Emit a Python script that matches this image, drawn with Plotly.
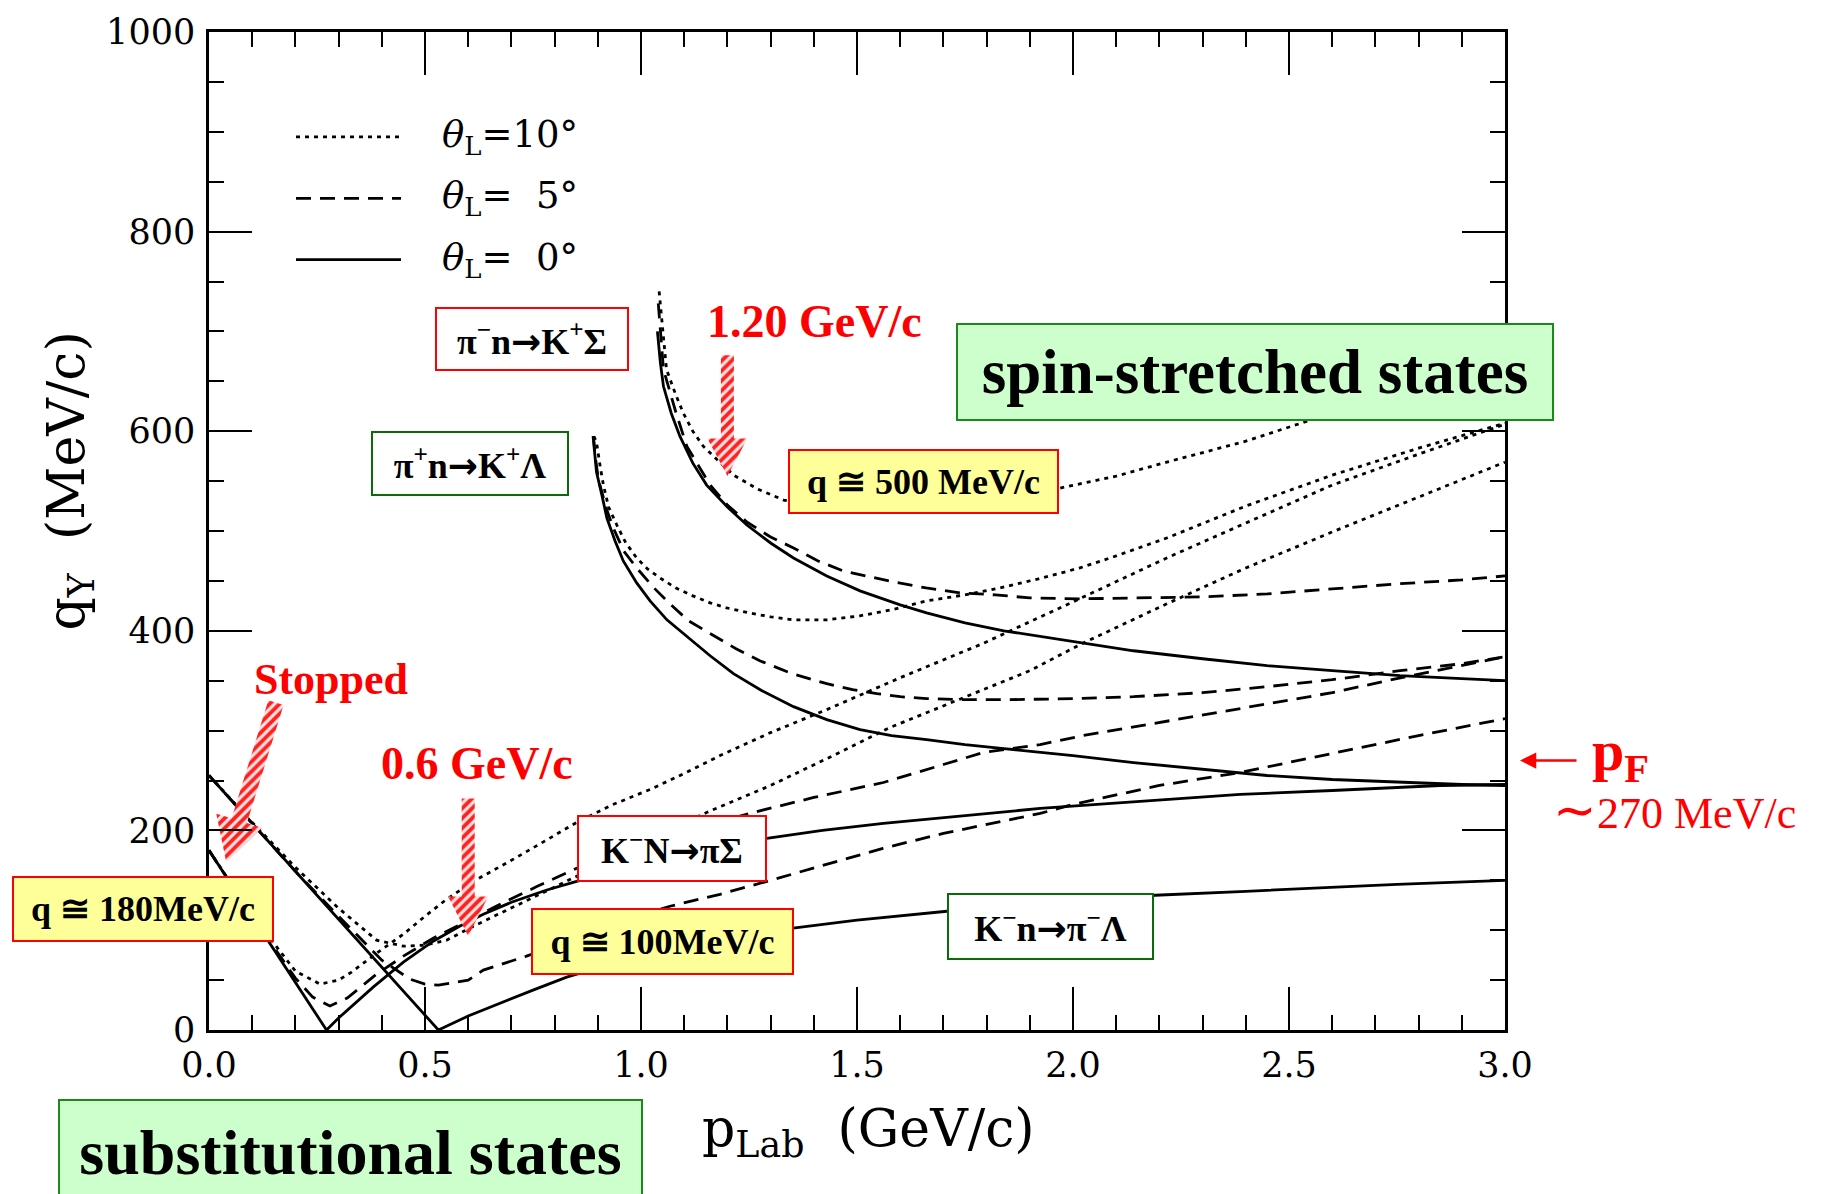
import math
import plotly.graph_objects as go

# ---------------------------------------------------------------
# Hypernuclear recoil momentum q_Y (MeV/c) versus beam momentum
# p_Lab (GeV/c) for four production reactions at three lab angles
# ---------------------------------------------------------------

# pi- n -> K+ Sigma
P_KS_0 = [1.038, 1.045, 1.052, 1.07, 1.09, 1.12, 1.152, 1.2, 1.245, 1.3, 1.353, 1.43, 1.507, 1.6,
          1.661, 1.75, 1.84, 2.0, 2.14, 2.3, 2.449, 2.6, 2.757, 2.9, 3.0]
Q_KS_0 = [700, 668, 645, 618, 595, 568, 546, 524, 506, 488, 473, 455, 440, 426,
          418, 408, 400, 389, 380, 372, 365, 360, 355, 352, 350]
P_KS_5 = [1.040, 1.046, 1.052, 1.08, 1.106, 1.16, 1.2, 1.245, 1.3, 1.353, 1.41, 1.468, 1.53, 1.584,
          1.66, 1.738, 1.82, 1.9, 2.016, 2.15, 2.3, 2.45, 2.6, 2.75, 2.9, 3.0]
Q_KS_5 = [728, 690, 662, 620, 585, 546, 526, 509, 494, 483, 470, 460, 454, 449,
          443, 438, 436, 433, 432, 433, 434, 437, 442, 447, 451, 455]
P_KS_10 = [1.042, 1.05, 1.059, 1.08, 1.098, 1.12, 1.144, 1.18, 1.214, 1.27, 1.33, 1.4, 1.5, 1.6,
           1.7, 1.8, 1.9, 1.97, 2.1, 2.217, 2.4, 2.556, 2.7, 2.85, 3.0]
Q_KS_10 = [740, 700, 662, 637, 618, 600, 585, 570, 556, 542, 531, 526, 524, 525,
           528, 532, 538, 543, 555, 569, 590, 612, 630, 648, 665]

# pi+ n -> K+ Lambda
P_KL_0 = [0.889, 0.893, 0.897, 0.91, 0.921, 0.94, 0.959, 0.99, 1.021, 1.06, 1.106, 1.16, 1.214, 1.28,
          1.353, 1.43, 1.507, 1.58, 1.661, 1.75, 1.84, 2.0, 2.14, 2.3, 2.449, 2.6, 2.757, 2.9, 3.0]
Q_KL_0 = [595, 575, 559, 535, 513, 490, 470, 448, 430, 411, 394, 375, 357, 340,
          324, 311, 301, 295, 291, 286, 282, 275, 268, 261, 255, 251, 248, 246, 245]
P_KL_5 = [0.890, 0.894, 0.9, 0.905, 0.92, 0.936, 0.96, 0.99, 1.03, 1.067, 1.11, 1.16, 1.22, 1.275,
          1.35, 1.43, 1.49, 1.546, 1.6, 1.661, 1.75, 1.85, 2.0, 2.14, 2.3, 2.449, 2.6, 2.757, 2.9, 3.0]
Q_KL_5 = [595, 575, 556, 546, 522, 503, 480, 463, 443, 427, 410, 397, 382, 370,
          357, 347, 341, 337, 334, 332, 331, 331, 332, 334, 338, 344, 351, 360, 367, 374]
P_KL_10 = [0.891, 0.897, 0.905, 0.913, 0.925, 0.944, 0.965, 0.99, 1.015, 1.044, 1.08, 1.12, 1.16,
           1.198, 1.25, 1.3, 1.352, 1.43, 1.507, 1.58, 1.661, 1.75, 1.831, 1.92, 2.016, 2.1, 2.217,
           2.4, 2.6, 2.8, 3.0]
Q_KL_10 = [595, 589, 566, 546, 524, 506, 488, 473, 462, 453, 443, 435, 428,
           423, 418, 414, 411, 411, 415, 421, 430, 436, 443, 452, 463, 475, 493,
           525, 556, 583, 608]

# K- N -> pi Sigma
P_PS_0 = [0.0, 0.272, 0.3, 0.33, 0.38, 0.45, 0.519, 0.58, 0.635, 0.7, 0.78, 0.851, 0.95, 1.05,
          1.15, 1.291, 1.42, 1.561, 1.7, 1.792, 1.924, 2.023, 2.225, 2.387, 2.6, 2.85, 3.0]
Q_PS_0 = [180, 0, 12, 24, 43, 68, 89, 104, 116, 128, 140, 149, 160, 170,
          180, 192, 200, 207, 213, 217, 222, 225, 231, 236, 240, 245, 246]
P_PS_5 = [0.0, 0.1, 0.2, 0.24, 0.28, 0.32, 0.388, 0.45, 0.519, 0.6, 0.674, 0.76, 0.851, 0.95,
          1.05, 1.15, 1.26, 1.4, 1.561, 1.7, 1.792, 1.924, 2.023, 2.225, 2.387, 2.6, 2.77, 3.0]
Q_PS_5 = [180, 114, 52, 33, 24, 32, 56, 74, 92, 110, 126, 144, 162, 178,
          192, 205, 218, 233, 248, 266, 278, 286, 295, 310, 322, 338, 354, 374]
P_PS_10 = [0.0, 0.1, 0.2, 0.257, 0.3, 0.33, 0.388, 0.45, 0.5, 0.55, 0.612, 0.7, 0.78, 0.851,
           0.93, 1.021, 1.1, 1.183, 1.3, 1.43, 1.6, 1.79, 2.0, 2.217, 2.4, 2.6, 2.8, 3.0]
Q_PS_10 = [180, 115, 59, 46, 50, 58, 77, 96, 114, 131, 149, 170, 190, 208,
           225, 241, 257, 275, 298, 321, 353, 387, 429, 473, 508, 546, 577, 607]

# K- n -> pi- Lambda
P_PL_0 = [0.0, 0.531, 0.6, 0.674, 0.75, 0.828, 0.92, 1.0, 1.1, 1.2, 1.352, 1.5, 1.708, 1.9,
          2.19, 2.4, 2.541, 2.75, 3.0]
Q_PL_0 = [255, 0, 14, 27, 40, 53, 65, 75, 85, 92, 102, 110, 119, 126,
          135, 139, 142, 146, 150]
P_PL_5 = [0.0, 0.1, 0.2, 0.3, 0.4, 0.465, 0.5, 0.531, 0.6, 0.635, 0.735, 0.85, 0.95, 1.067,
          1.183, 1.3, 1.42, 1.56, 1.7, 1.85, 1.924, 2.0, 2.2, 2.387, 2.6, 2.8, 3.0]
Q_PL_5 = [255, 207, 159, 114, 70, 51, 46, 45, 50, 60, 74, 92, 108, 124,
          136, 150, 165, 182, 197, 210, 217, 226, 245, 258, 277, 295, 312]
P_PL_10 = [0.0, 0.1, 0.2, 0.3, 0.388, 0.45, 0.5, 0.55, 0.612, 0.7, 0.78, 0.851, 0.95, 1.05,
           1.152, 1.3, 1.45, 1.576, 1.754, 1.9, 2.02, 2.217, 2.4, 2.6, 2.8, 3.0]
Q_PL_10 = [255, 208, 163, 122, 90, 84, 85, 90, 104, 122, 139, 154, 176, 197,
           218, 245, 276, 303, 334, 360, 387, 427, 463, 499, 534, 569]

# Marked beam momenta (GeV/c) and Fermi momentum (MeV/c)
P_MAGIC_SUBST = 0.6
P_MAGIC_STRETCH = 1.20
P_FERMI = 270

# ---------------------------------------------------------------
# Geometry of the page
# ---------------------------------------------------------------
W, H = 1822, 1194
ML, MR, MT, MB = 209, 317, 22, 164
X_RANGE = (0.0, 3.0)
Y_RANGE = (0.0, 1000.0)
PLOT_W = W - ML - MR
PLOT_H = H - MT - MB
PX_PER_X = PLOT_W / (X_RANGE[1] - X_RANGE[0])
PX_PER_Y = PLOT_H / (Y_RANGE[1] - Y_RANGE[0])


def paper(px, py):
    """Page pixel -> paper coordinates."""
    return (px - ML) / PLOT_W, (H - MB - py) / PLOT_H


def arrow_polygon(tail, tip, shaft_w, head_w, head_len):
    """Block arrow outline in data coordinates; widths are in pixels."""
    tx, ty = tail[0] * PX_PER_X, tail[1] * PX_PER_Y
    hx, hy = tip[0] * PX_PER_X, tip[1] * PX_PER_Y
    dx, dy = hx - tx, hy - ty
    length = math.hypot(dx, dy)
    ux, uy = dx / length, dy / length
    nx, ny = -uy, ux
    bx, by = hx - ux * head_len, hy - uy * head_len
    pts = [
        (tx + nx * shaft_w / 2, ty + ny * shaft_w / 2),
        (bx + nx * shaft_w / 2, by + ny * shaft_w / 2),
        (bx + nx * head_w / 2, by + ny * head_w / 2),
        (hx, hy),
        (bx - nx * head_w / 2, by - ny * head_w / 2),
        (bx - nx * shaft_w / 2, by - ny * shaft_w / 2),
        (tx - nx * shaft_w / 2, ty - ny * shaft_w / 2),
    ]
    pts.append(pts[0])
    return [p[0] / PX_PER_X for p in pts], [p[1] / PX_PER_Y for p in pts]


AXIS_FONT = "DejaVu Serif"
BOX_FONT = "Liberation Serif"
RED = "#ff0000"
GREEN_EDGE = "#1a8a1a"
DARK_GREEN = "#0b6b0b"
YELLOW = "#ffff99"
LIGHT_GREEN = "#ccffcc"

DOT = "4px,5px"
DASH = "15px,9px"
STYLES = {0: "solid", 5: DASH, 10: DOT}

# reaction arrow drawn with a glyph that has a long, heavy shaft
ARROW = "<span style='font-family:\"DejaVu Sans\"'>→</span>"

fig = go.Figure()

curves = [
    (P_KS_0, Q_KS_0, 0), (P_KS_5, Q_KS_5, 5), (P_KS_10, Q_KS_10, 10),
    (P_KL_0, Q_KL_0, 0), (P_KL_5, Q_KL_5, 5), (P_KL_10, Q_KL_10, 10),
    (P_PS_0, Q_PS_0, 0), (P_PS_5, Q_PS_5, 5), (P_PS_10, Q_PS_10, 10),
    (P_PL_0, Q_PL_0, 0), (P_PL_5, Q_PL_5, 5), (P_PL_10, Q_PL_10, 10),
]
for p, q, ang in curves:
    fig.add_trace(go.Scatter(
        x=p, y=q, mode="lines",
        line=dict(color="black", width=2.8, dash=STYLES[ang]),
        hoverinfo="skip", showlegend=False,
    ))

# Hatched red pointer arrows
arrows = [
    ((0.155, 328), (0.040, 168), 16, 48, 44),
    ((P_MAGIC_SUBST, 232), (P_MAGIC_SUBST, 94), 13, 40, 40),
    ((P_MAGIC_STRETCH, 676), (P_MAGIC_STRETCH, 555), 13, 40, 38),
]
for tail, tip, sw, hw, hl in arrows:
    ax_, ay_ = arrow_polygon(tail, tip, sw, hw, hl)
    fig.add_trace(go.Scatter(
        x=ax_, y=ay_, mode="lines", fill="toself",
        line=dict(width=0, color="rgba(0,0,0,0)"),
        fillcolor="#ffd0d0",
        fillpattern=dict(shape="/", fgcolor="#ff2020", bgcolor="#ffe4e4",
                         size=7, solidity=0.55, fillmode="replace"),
        hoverinfo="skip", showlegend=False,
    ))

annotations = []
shapes = []

# Line-style key
key_rows = [(128, DOT, "<i>θ</i><sub>L</sub>=10°"),
            (190, DASH, "<i>θ</i><sub>L</sub>=  5°"),
            (252, "solid", "<i>θ</i><sub>L</sub>=  0°")]
for py, dash, label_text in key_rows:
    x0, y0 = paper(296, py)
    x1, _ = paper(401, py)
    shapes.append(dict(type="line", xref="paper", yref="paper", x0=x0, x1=x1, y0=y0, y1=y0,
                       line=dict(color="black", width=2.8, dash=dash)))
    tx, ty = paper(440, py)
    annotations.append(dict(xref="paper", yref="paper", x=tx, y=ty, xanchor="left",
                            yanchor="middle", showarrow=False, text=label_text,
                            font=dict(family=AXIS_FONT, size=37, color="black")))


def boxed(text, x0, x1, y0, y1, fill, edge, size, family=BOX_FONT, color="black"):
    cx, cy = paper((x0 + x1) / 2, (y0 + y1) / 2)
    annotations.append(dict(
        xref="paper", yref="paper", x=cx, y=cy, xanchor="center", yanchor="middle",
        showarrow=False, text=text, align="center", valign="middle",
        width=x1 - x0 - 4, height=y1 - y0 - 4, borderpad=0, borderwidth=2,
        bordercolor=edge, bgcolor=fill,
        font=dict(family=family, size=size, color=color)))


def label(text, cx, cy, size, color=RED, family=BOX_FONT, anchor="center"):
    x, y = paper(cx, cy)
    annotations.append(dict(xref="paper", yref="paper", x=x, y=y, xanchor=anchor,
                            yanchor="middle", showarrow=False, text=text,
                            font=dict(family=family, size=size, color=color)))


boxed("<b>π<sup>−</sup>n" + ARROW + "K<sup>+</sup>Σ</b>", 435, 629, 300, 364, "white", RED, 36)
boxed("<b>π<sup>+</sup>n" + ARROW + "K<sup>+</sup>Λ</b>", 371, 569, 425, 490, "white", DARK_GREEN, 36)
boxed("<b>spin-stretched states</b>", 956, 1554, 316, 414, LIGHT_GREEN, GREEN_EDGE, 63)
boxed("<b>q ≅ 500 MeV/c</b>", 788, 1059, 443, 508, YELLOW, RED, 36)
boxed("<b>q ≅ 180MeV/c</b>", 12, 274, 875, 941, YELLOW, RED, 36)
boxed("<b>K<sup>−</sup>N" + ARROW + "πΣ</b>", 577, 767, 813, 880, "white", RED, 36)
boxed("<b>q ≅ 100MeV/c</b>", 531, 794, 907, 974, YELLOW, RED, 36)
boxed("<b>K<sup>−</sup>n" + ARROW + "π<sup>−</sup>Λ</b>", 947, 1154, 892, 959, "white", DARK_GREEN, 36)
boxed("<b>substitutional states</b>", 58, 643, 1100, 1206, LIGHT_GREEN, GREEN_EDGE, 64)

label("<b>%.2f GeV/c</b>" % P_MAGIC_STRETCH, 814, 314, 46)
label("<b>Stopped</b>", 331, 676, 44)
label("<b>%.1f GeV/c</b>" % P_MAGIC_SUBST, 477, 761, 46)

# Fermi-momentum marker to the right of the frame
fy = H - MB - P_FERMI * PX_PER_Y
fx, fyp = paper(1520, fy)
annotations.append(dict(xref="paper", yref="paper", x=fx, y=fyp, ax=58, ay=0,
                        showarrow=True, arrowhead=2, arrowsize=1.3, arrowwidth=2.5,
                        arrowcolor=RED, text=""))
label("<b>p<sub>F</sub></b>", 1590, 752, 58, anchor="left")
label("<span style='font-size:52px'>∼</span>%d MeV/c" % P_FERMI, 1674, 808, 44)

# Axis titles
tx, ty = paper(868, 1133)
annotations.append(dict(xref="paper", yref="paper", x=tx, y=ty, xanchor="center",
                        yanchor="middle", showarrow=False,
                        text="p<sub>Lab</sub>  (GeV/c)",
                        font=dict(family=AXIS_FONT, size=52, color="black")))
tx, ty = paper(70, 476)
annotations.append(dict(xref="paper", yref="paper", x=tx, y=ty, xanchor="center",
                        yanchor="middle", showarrow=False, textangle=-90,
                        text="q<sub>Y</sub>  (MeV/c)",
                        font=dict(family=AXIS_FONT, size=52, color="black")))

axis_common = dict(
    showline=True, linecolor="black", linewidth=2.6, mirror="allticks",
    ticks="inside", ticklen=43, tickwidth=2, tickcolor="black",
    showgrid=False, zeroline=False,
    tickfont=dict(family=AXIS_FONT, size=35, color="black"),
)

fig.update_layout(
    width=W, height=H,
    margin=dict(l=ML, r=MR, t=MT, b=MB),
    plot_bgcolor="white", paper_bgcolor="white",
    showlegend=False,
    xaxis=dict(range=list(X_RANGE), tick0=0, dtick=0.5, tickformat=".1f",
               minor=dict(dtick=0.1, ticks="inside", ticklen=15, tickwidth=2,
                          tickcolor="black", showgrid=False),
               ticklabelstandoff=2, **axis_common),
    yaxis=dict(range=list(Y_RANGE), tick0=0, dtick=200,
               minor=dict(dtick=50, ticks="inside", ticklen=15, tickwidth=2,
                          tickcolor="black", showgrid=False),
               ticklabelstandoff=4, **axis_common),
    annotations=annotations,
    shapes=shapes,
)

fig.write_html("out.html")
with open("out.html", "r", encoding="utf-8") as fh:
    html = fh.read()
html = html.replace("<body>", '<body style="margin:0;padding:0;">', 1)
with open("out.html", "w", encoding="utf-8") as fh:
    fh.write(html)
